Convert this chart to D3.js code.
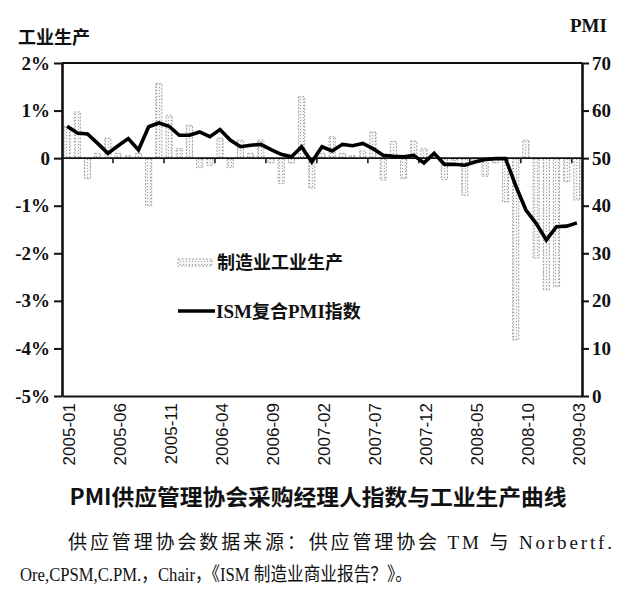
<!DOCTYPE html>
<html>
<head>
<meta charset="utf-8">
<script src="https://cdn.jsdelivr.net/npm/d3@7/dist/d3.min.js"></script>
<style>
  body { margin: 0; background: #fff; }
  svg text { fill: #111; }
</style>
</head>
<body>
<div id="chart-div"></div>
<script>
// months 2005-01 .. 2009-03
const months = [
  "2005-01","2005-02","2005-03","2005-04","2005-05","2005-06","2005-07","2005-08","2005-09","2005-10","2005-11","2005-12",
  "2006-01","2006-02","2006-03","2006-04","2006-05","2006-06","2006-07","2006-08","2006-09","2006-10","2006-11","2006-12",
  "2007-01","2007-02","2007-03","2007-04","2007-05","2007-06","2007-07","2007-08","2007-09","2007-10","2007-11","2007-12",
  "2008-01","2008-02","2008-03","2008-04","2008-05","2008-06","2008-07","2008-08","2008-09","2008-10","2008-11","2008-12",
  "2009-01","2009-02","2009-03"
];

// 制造业工业生产, monthly change in %
const ipChange = [
  0.66, 0.97, -0.43, 0.1, 0.42, 0.1, 0.05, 0.1, -1.0, 1.57, 0.9, 0.2,
  0.69, -0.2, -0.15, 0.42, -0.2, 0.38, 0.1, 0.38, -0.1, -0.53, -0.1, 1.29,
  -0.63, 0.1, 0.45, 0.1, 0.05, 0.15, 0.55, -0.46, 0.35, -0.43, 0.36, 0.2,
  0.05, -0.45, -0.05, -0.78, -0.05, -0.38, -0.1, -0.92, -3.82, 0.38, -2.1, -2.77,
  -2.7, -0.5, -0.88
];

// ISM复合PMI指数
const pmi = [
  56.7, 55.3, 55.1, 53.1, 51.0, 52.6, 54.1, 51.7, 56.6, 57.4, 56.7, 54.8,
  54.8, 55.5, 54.5, 56.0, 53.8, 52.4, 52.7, 52.9, 51.8, 50.8, 50.3, 52.4,
  49.2, 52.4, 51.5, 52.9, 52.6, 53.1, 52.0, 50.6, 50.4, 50.3, 50.6, 49.0,
  51.0, 48.7, 48.7, 48.5, 49.2, 49.7, 49.9, 49.9, 44.2, 39.1, 36.3, 32.8,
  35.6, 35.7, 36.4
];

const leftTicks = [-5, -4, -3, -2, -1, 0, 1, 2];
const rightTicks = [0, 10, 20, 30, 40, 50, 60, 70];
const monthLabels = ["2005-01","2005-06","2005-11","2006-04","2006-09","2007-02",
                     "2007-07","2007-12","2008-05","2008-10","2009-03"];

const width = 636, height = 609;
const plot = { left: 62, right: 582, top: 63, bottom: 396 };
const serif = "'Liberation Serif', 'DejaVu Serif', serif";
const cjk = "'Noto Sans CJK SC', 'Noto Sans', sans-serif";

const svg = d3.select("div#chart-div").append("svg")
  .attr("width", width)
  .attr("height", height);

// dotted fill for the bars
const pat = svg.append("defs").append("pattern")
  .attr("id", "dots")
  .attr("patternUnits", "userSpaceOnUse")
  .attr("width", 3)
  .attr("height", 3);
pat.append("rect").attr("width", 3).attr("height", 3).attr("fill", "#f6f6f6");
pat.append("rect").attr("width", 1).attr("height", 1).attr("fill", "#a0a0a0");

const x = d3.scaleBand()
  .domain(months)
  .range([plot.left, plot.right])
  .paddingInner(0.4)
  .paddingOuter(0.2);

const yL = d3.scaleLinear().domain([-5, 2]).range([plot.bottom, plot.top]);
const yR = d3.scaleLinear().domain([0, 70]).range([plot.bottom, plot.top]);

const data = months.map((m, i) => ({ month: m, ip: ipChange[i], pmi: pmi[i] }));

// bars
svg.append("g")
  .selectAll("rect")
  .data(data)
  .enter()
  .append("rect")
  .attr("x", d => x(d.month))
  .attr("width", x.bandwidth())
  .attr("y", d => yL(Math.max(0, d.ip)))
  .attr("height", d => Math.abs(yL(d.ip) - yL(0)))
  .attr("fill", "url(#dots)")
  .attr("stroke", "#8e8e8e")
  .attr("stroke-width", 0.8)
  .attr("stroke-dasharray", "2,1.5");

// zero line with small ticks every 5 months
svg.append("line")
  .attr("x1", plot.left).attr("x2", plot.right)
  .attr("y1", yL(0)).attr("y2", yL(0))
  .attr("stroke", "#111").attr("stroke-width", 1.6);

const tickIdx = d3.range(5, months.length, 5);
svg.append("g")
  .selectAll("line")
  .data(tickIdx)
  .enter()
  .append("line")
  .attr("x1", i => x(months[i]) - x.step() * x.paddingInner() / 2)
  .attr("x2", i => x(months[i]) - x.step() * x.paddingInner() / 2)
  .attr("y1", yL(0))
  .attr("y2", yL(0) + 5)
  .attr("stroke", "#111").attr("stroke-width", 1.5);

// PMI line
const line = d3.line()
  .x(d => x(d.month) + x.bandwidth() / 2)
  .y(d => yR(d.pmi));

svg.append("path")
  .datum(data)
  .attr("d", line)
  .attr("fill", "none")
  .attr("stroke", "#000")
  .attr("stroke-width", 3.6)
  .attr("stroke-linejoin", "miter");

// frame top
svg.append("line")
  .attr("x1", plot.left).attr("x2", plot.right)
  .attr("y1", plot.top).attr("y2", plot.top)
  .attr("stroke", "#111").attr("stroke-width", 2.2);

// axes
const leftAxis = svg.append("g")
  .attr("transform", `translate(${plot.left},0)`)
  .call(d3.axisLeft(yL).tickValues(leftTicks).tickSize(8).tickSizeOuter(0)
    .tickFormat(d => d === 0 ? "0" : d + "%"));

const rightAxis = svg.append("g")
  .attr("transform", `translate(${plot.right},0)`)
  .call(d3.axisRight(yR).tickValues(rightTicks).tickSize(7).tickSizeOuter(0));

const bottomAxis = svg.append("g")
  .attr("transform", `translate(0,${plot.bottom})`)
  .call(d3.axisBottom(x).tickValues(monthLabels).tickSize(0).tickSizeOuter(0));

[leftAxis, rightAxis, bottomAxis].forEach(g => {
  g.select(".domain").attr("stroke", "#111").attr("stroke-width", 2.6);
  g.selectAll(".tick line").attr("stroke", "#111").attr("stroke-width", 2);
});
bottomAxis.select(".domain").attr("stroke-width", 2.2);

leftAxis.selectAll("text")
  .attr("x", -12)
  .style("font-family", serif)
  .style("font-weight", "bold")
  .style("font-size", "19px");

rightAxis.selectAll("text")
  .attr("x", 10)
  .style("font-family", serif)
  .style("font-weight", "bold")
  .style("font-size", "19px");

bottomAxis.selectAll("text")
  .attr("transform", "rotate(-90)")
  .attr("x", -7)
  .attr("y", 2)
  .attr("dy", "0.36em")
  .attr("text-anchor", "end")
  .style("font-family", "'Liberation Sans', Arial, sans-serif")
  .style("font-size", "17px");

// axis titles
svg.append("text")
  .attr("x", 18).attr("y", 44)
  .style("font-family", cjk).style("font-weight", "bold").style("font-size", "18px")
  .text("工业生产");

svg.append("text")
  .attr("x", 570).attr("y", 32)
  .style("font-family", serif).style("font-weight", "bold").style("font-size", "19px")
  .text("PMI");

// legend
svg.append("rect")
  .attr("x", 178).attr("y", 259).attr("width", 34).attr("height", 7)
  .attr("fill", "url(#dots)")
  .attr("stroke", "#8e8e8e").attr("stroke-width", 0.8).attr("stroke-dasharray", "2,1.5");

svg.append("text")
  .attr("x", 217).attr("y", 269)
  .style("font-family", cjk).style("font-weight", "bold").style("font-size", "18px")
  .text("制造业工业生产");

svg.append("line")
  .attr("x1", 178).attr("x2", 215).attr("y1", 311).attr("y2", 311)
  .attr("stroke", "#000").attr("stroke-width", 3.6);

const lg2 = svg.append("text")
  .attr("x", 216).attr("y", 318)
  .style("font-weight", "bold").style("font-size", "18px");
lg2.append("tspan").style("font-family", serif).style("font-size", "19px").text("ISM");
lg2.append("tspan").style("font-family", cjk).text("复合");
lg2.append("tspan").style("font-family", serif).style("font-size", "19px").text("PMI");
lg2.append("tspan").style("font-family", cjk).text("指数");

// caption
svg.append("text")
  .attr("x", 318).attr("y", 505)
  .attr("text-anchor", "middle")
  .attr("textLength", 497)
  .attr("lengthAdjust", "spacingAndGlyphs")
  .style("font-family", cjk).style("font-weight", "bold").style("font-size", "22px")
  .text("PMI供应管理协会采购经理人指数与工业生产曲线");

svg.append("text")
  .attr("x", 68).attr("y", 549)
  .attr("textLength", 544)
  .attr("lengthAdjust", "spacing")
  .style("font-family", `'Liberation Serif', ${cjk}`).style("font-size", "19px")
  .text("供应管理协会数据来源：供应管理协会 TM 与 Norbertf.");

svg.append("text")
  .attr("x", 20).attr("y", 581)
  .attr("textLength", 392)
  .attr("lengthAdjust", "spacingAndGlyphs")
  .style("font-family", `'Liberation Serif', ${cjk}`).style("font-size", "19px")
  .text("Ore,CPSM,C.PM.，Chair，《ISM 制造业商业报告？》。");
</script>
</body>
</html>
